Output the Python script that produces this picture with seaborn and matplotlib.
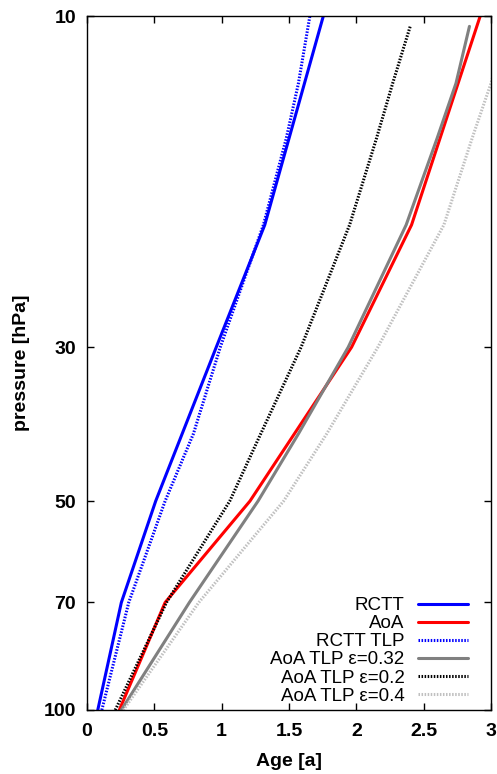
import matplotlib
matplotlib.use('Agg')
import matplotlib.pyplot as plt
import seaborn as sns
import pandas as pd
from matplotlib.ticker import NullLocator

# model levels [hPa]
p_model = [100, 70, 50, 30, 20, 10]
rctt = [0.08, 0.255, 0.51, 0.96, 1.32, 1.755]
aoa = [0.24, 0.58, 1.21, 1.965, 2.41, 2.92]

# TLP curves (read on a finer grid)
p_tlp = [100, 70, 50, 40, 30, 20, 15, 12.5, 10.35]
p_rctt_tlp = [100, 70, 50, 40, 30, 20, 15, 12.5, 10]
rctt_tlp = [0.11, 0.31, 0.58, 0.79, 0.99, 1.31, 1.48, 1.57, 1.655]
aoa_tlp_032 = [0.255, 0.76, 1.27, 1.57, 1.94, 2.37, 2.60, 2.74, 2.84]
aoa_tlp_02 = [0.21, 0.59, 1.06, 1.29, 1.59, 1.95, 2.15, 2.27, 2.40]
aoa_tlp_04 = [0.27, 0.83, 1.46, 1.78, 2.16, 2.65, 2.86, 3.00, 3.12]

series = [
    ('RCTT', p_model, rctt, '#0000ff', '-'),
    ('AoA', p_model, aoa, '#ff0000', '-'),
    ('RCTT TLP', p_rctt_tlp, rctt_tlp, '#0000ff', (0, (0.5, 0.5))),
    ('AoA TLP ε=0.32', p_tlp, aoa_tlp_032, '#808080', '-'),
    ('AoA TLP ε=0.2', p_tlp, aoa_tlp_02, '#000000', (0, (0.5, 0.5))),
    ('AoA TLP ε=0.4', p_tlp, aoa_tlp_04, '#c0c0c0', (0, (0.5, 0.5))),
]

sns.set_style('ticks')
plt.rcParams['font.family'] = ['Liberation Sans', 'DejaVu Sans']
plt.rcParams['text.color'] = 'black'
plt.rcParams['axes.labelcolor'] = 'black'

fig = plt.figure(figsize=(4.97, 7.74), dpi=100)
ax = fig.add_axes([87 / 497, 1 - 710 / 774, 404 / 497, 694 / 774])

for name, p, age, col, ls in series:
    df = pd.DataFrame({'age': age, 'p': p})
    sns.lineplot(data=df, x='age', y='p', sort=False, ax=ax, color=col,
                 linestyle=ls, linewidth=2.2, label=name)

ax.set_yscale('log')
ax.set_ylim(100, 10)
ax.set_xlim(0, 3)
ax.set_yticks([10, 30, 50, 70, 100])
ax.set_yticklabels(['10', '30', '50', '70', '100'])
ax.yaxis.set_minor_locator(NullLocator())
ax.set_xticks([0, 0.5, 1, 1.5, 2, 2.5, 3])
ax.set_xticklabels(['0', '0.5', '1', '1.5', '2', '2.5', '3'])

ax.tick_params(direction='in', length=5, width=1, top=True, right=True,
               labelsize=14, colors='black')
ax.tick_params(axis='x', pad=9)
ax.tick_params(axis='y', pad=8)
for lbl in ax.get_xticklabels() + ax.get_yticklabels():
    lbl.set_fontweight('bold')
for s in ax.spines.values():
    s.set_linewidth(1)
    s.set_color('black')

ax.set_xlabel('Age [a]', fontsize=14, fontweight='bold', labelpad=10,
              color='black')
ax.set_ylabel('pressure [hPa]', fontsize=14, fontweight='bold', labelpad=10,
              color='black')

leg = ax.legend(loc='lower right', frameon=False, markerfirst=False,
                fontsize=13.5, handlelength=2.7, handletextpad=0.7,
                labelspacing=0.05, borderaxespad=0,
                bbox_to_anchor=(0.962, -0.003))
for t in leg.get_texts():
    t.set_color('black')
# right-align the legend text like gnuplot
leg._legend_box._children[-1]._children[0].align = 'right'

fig.savefig('out.png', dpi=100)
